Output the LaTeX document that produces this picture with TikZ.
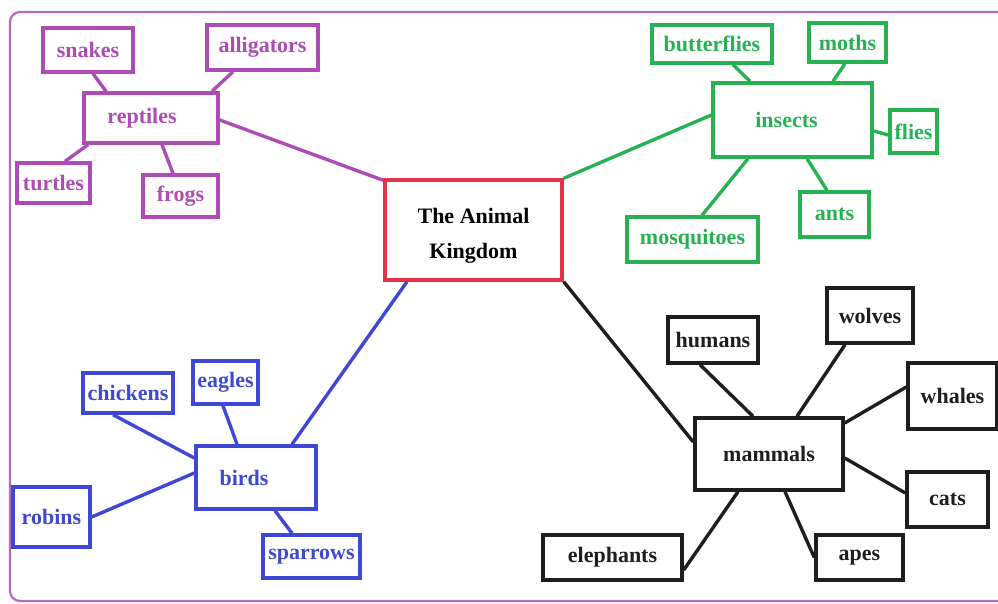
\documentclass[tikz,border=0pt]{standalone}
\usepackage{fontspec}
\setmainfont{Liberation Serif}
\definecolor{rep}{RGB}{172,76,180}
\definecolor{ins}{RGB}{38,178,82}
\definecolor{brd}{RGB}{62,72,212}
\definecolor{mam}{RGB}{30,30,30}
\definecolor{ctr}{RGB}{226,52,72}
\definecolor{frame}{RGB}{184,104,192}
\newcommand\lft[2]{#2\hspace*{#1}}
\tikzset{
  box/.style={draw, line width=3.4pt, inner sep=0pt, align=center,
    font=\fontsize{22}{35}\selectfont\bfseries},
  conn/.style={line width=3.4pt},
  sz/.style 2 args={minimum width=#1pt, minimum height=#2pt},
}
\begin{document}
\begin{tikzpicture}[x=1pt,y=-1pt]
\useasboundingbox (0,0) rectangle (998,603);
\begin{scope}
\clip (0,0) rectangle (998,603);
\draw[frame, line width=2.2pt, rounded corners=10pt] (10,12) rectangle (1010,601);
\end{scope}

% centre
\node[box, ctr, text=black, sz={177}{100}] (center) at (473.5,230) {\rule{0pt}{26pt}The Animal\\Kingdom};

% reptiles
\begin{scope}[every node/.append style={rep}]
\node[box, sz={90}{44}] (snakes) at (88,50) {snakes};
\node[box, sz={111}{45}] (alligators) at (262.5,47.5) {alligators};
\node[box, sz={134}{50}] (reptiles) at (151,118) {\lft{18pt}{reptiles}};
\node[box, sz={73}{40}] (turtles) at (53.5,183) {turtles};
\node[box, sz={75}{42}] (frogs) at (180.5,196) {frogs};
\end{scope}
\begin{scope}[rep, every path/.append style={conn}]
\draw ([xshift=5pt]snakes.south) -- ([xshift=-45pt]reptiles.north);
\draw ([xshift=-29.5pt]alligators.south) -- ([xshift=61pt]reptiles.north);
\draw ([xshift=-63pt]reptiles.south) -- ([xshift=11.5pt]turtles.north);
\draw ([xshift=11pt]reptiles.south) -- ([xshift=-7.5pt]frogs.north);
\draw ([yshift=-2pt]reptiles.east) -- ([yshift=-2pt]center.north west);
\end{scope}

% insects
\begin{scope}[every node/.append style={ins}]
\node[box, sz={120}{38}] (butterflies) at (712,44) {butterflies};
\node[box, sz={77}{39}] (moths) at (847.5,42.5) {moths};
\node[box, sz={159}{74}] (insects) at (792.5,120) {\lft{12pt}{insects}};
\node[box, sz={47}{43}] (flies) at (913.5,131.5) {flies};
\node[box, sz={69}{45}] (ants) at (834.5,214.5) {ants};
\node[box, sz={131}{45}] (mosquitoes) at (692.5,239.5) {mosquitoes};
\end{scope}
\begin{scope}[ins, every path/.append style={conn}]
\draw ([xshift=21pt]butterflies.south) -- ([xshift=-42.5pt]insects.north);
\draw ([xshift=-2.5pt]moths.south) -- ([xshift=40.5pt]insects.north);
\draw ([yshift=-11pt]insects.east) -- ([yshift=-3.5pt]flies.west);
\draw ([xshift=14.5pt]insects.south) -- ([xshift=-7.5pt]ants.north);
\draw ([xshift=-44.5pt]insects.south) -- ([xshift=9.5pt]mosquitoes.north);
\draw (center.north east) -- ([yshift=5pt]insects.west);
\end{scope}

% birds
\begin{scope}[every node/.append style={brd}]
\node[box, sz={90}{40}] (chickens) at (128,393) {chickens};
\node[box, sz={65}{43}] (eagles) at (225.5,382.5) {eagles};
\node[box, sz={120}{63}] (birds) at (256,477.5) {\lft{24pt}{birds}};
\node[box, sz={77}{60}] (robins) at (51.5,517) {robins};
\node[box, sz={97}{43}] (sparrows) at (311.5,556.5) {sparrows};
\end{scope}
\begin{scope}[brd, every path/.append style={conn}]
\draw ([xshift=-15pt]chickens.south) -- ([yshift=19.5pt]birds.west);
\draw ([xshift=-2.5pt]eagles.south) -- ([xshift=-19pt]birds.north);
\draw (robins.east) -- ([yshift=4.5pt]birds.west);
\draw ([xshift=19pt]birds.south) -- ([xshift=-19.5pt]sparrows.north);
\draw ([xshift=-66.5pt]center.south) -- ([xshift=36pt]birds.north);
\end{scope}

% mammals
\begin{scope}[every node/.append style={mam}]
\node[box, sz={90}{46}] (humans) at (713,340) {humans};
\node[box, sz={86}{55}] (wolves) at (870,315.5) {wolves};
\node[box, sz={89}{66}] (whales) at (952.5,396) {whales};
\node[box, sz={148}{72}] (mammals) at (769,454) {mammals};
\node[box, sz={81}{55}] (cats) at (947.5,499.5) {cats};
\node[box, sz={87}{45}] (apes) at (859.5,557.5) {apes};
\node[box, sz={139}{45}] (elephants) at (612.5,557.5) {elephants};
\end{scope}
\begin{scope}[mam, every path/.append style={conn}]
\draw (center.south east) -- ([yshift=12pt]mammals.west);
\draw ([xshift=-13pt]humans.south) -- ([xshift=-16pt]mammals.north);
\draw ([xshift=-25pt]wolves.south) -- ([xshift=28pt]mammals.north);
\draw ([yshift=9pt]whales.west) -- ([yshift=31pt]mammals.east);
\draw ([yshift=-4pt]mammals.east) -- ([yshift=6.5pt]cats.west);
\draw ([xshift=16pt]mammals.south) -- (apes.west);
\draw ([xshift=-31pt]mammals.south) -- ([yshift=-12.5pt]elephants.east);
\end{scope}
\end{tikzpicture}
\end{document}
